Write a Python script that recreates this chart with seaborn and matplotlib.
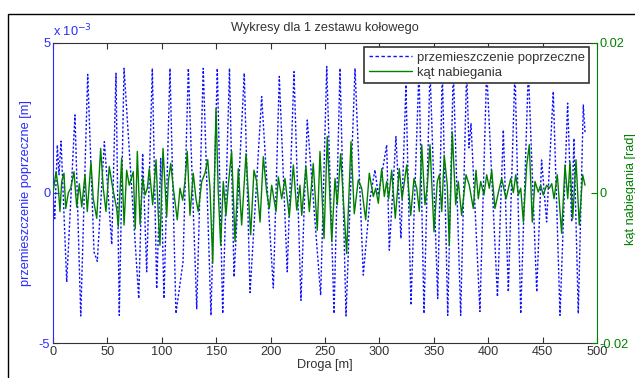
import matplotlib
matplotlib.use("Agg")
import matplotlib.pyplot as plt
import seaborn as sns
import pandas as pd
from matplotlib.lines import Line2D
from matplotlib.patches import Rectangle

# ---------------- data ----------------
# lateral displacement, values in 1e-3 m, distance in m
disp_dist = [0.0, 1.6, 4.0, 5.5, 7.4, 12.6, 20.2, 25.5, 31.9, 37.7, 40.7, 47.2, 54.0,
             57.9, 60.9, 65.3, 78.8, 82.4, 86.1, 91.3, 95.3, 99.0, 102.0, 107.5, 113.0,
             119.5, 124.4, 132.1, 138.1, 145.2, 151.0, 156.0, 162.2, 166.4, 175.8, 181.1,
             191.8, 202.5, 208.0, 215.3, 221.5, 227.9, 233.7, 246.0, 251.6, 258.3, 263.8,
             269.3, 277.6, 285.2, 291.4, 295.9, 299.0, 306.7, 309.1, 315.2, 319.8, 324.4,
             329.0, 336.4, 341.0, 346.5, 353.6, 357.8, 362.8, 367.9, 374.7, 380.2, 382.3,
             384.2, 392.4, 398.6, 408.5, 413.9, 418.5, 424.6, 429.9, 436.9, 444.6, 449.1,
             453.7, 459.8, 466.0, 473.0, 476.7, 478.8, 482.8, 487.4, 489.0]
disp_val = [0.0, -0.86, 1.59, 0.6, 1.72, -2.97, 2.59, -4.1, 3.94, -1.97, -2.28, 1.7, -1.72,
            3.98, -4.08, 4.14, -3.52, 1.31, -2.63, 4.14, -3.19, 1.14, -3.52, 4.14, -4.02,
            -2.3, 4.14, -3.86, 4.14, -4.08, 4.14, -4.02, 4.14, -2.8, 3.98, -3.32,
            3.2, -3.17, 3.87, -2.63, 4.03, -3.58, 2.42, -3.41, 4.2, -4.02, 4.14,
            -4.1, 4.14, -2.74, -0.19, 0.76, -0.08, 1.59, -1.91, 1.87, -1.52, 3.59,
            -3.74, 4.1, -4.02, 4.1, -3.52, 4.1, -4.08, 4.1, -4.08, 4.1, 1.5,
            2.3, -3.95, 4.1, -3.46, 2.09, -3.3, 4.1, -4.02, 4.1, -3.3, 1.09,
            -0.97, 3.37, -4.08, 2.98, -0.97, 1.81, -4.02, 2.92, 2.0]

# attack angle, values in 1e-3 rad, distance in m
ang_dist = [0.0, 2.8, 4.9, 6.4, 8.0, 10.1, 11.7, 14.1, 16.3, 19.3, 21.8, 24.2, 26.4, 29.4,
            31.5, 34.9, 37.0, 40.2, 43.8, 46.2, 48.7, 51.7, 54.9, 58.5, 60.0, 63.1, 65.3,
            67.7, 70.1, 73.8, 75.6, 77.5, 80.0, 82.4, 84.6, 86.7, 88.5, 91.6, 94.7, 96.8,
            98.3, 101.1, 104.5, 106.0, 108.2, 110.6, 114.2, 116.7, 119.2, 121.3, 123.4,
            125.9, 128.9, 131.4, 133.5, 136.7, 139.7, 142.2, 144.3, 146.8, 149.8, 151.9,
            154.1, 156.5, 159.0, 161.1, 164.2, 167.3, 170.3, 173.4, 177.4, 181.7, 184.7,
            187.2, 190.3, 193.3, 196.4, 198.8, 201.0, 205.0, 207.1, 210.2, 213.2, 217.2,
            220.9, 224.0, 227.0, 228.6, 232.5, 235.6, 239.2, 242.9, 245.4, 249.1, 252.1,
            256.2, 259.2, 261.3, 264.4, 267.5, 269.9, 273.9, 276.9, 280.6, 283.7, 287.4,
            290.7, 294.4, 296.6, 299.0, 302.1, 304.5, 306.7, 308.5, 311.3, 314.6, 318.3,
            320.8, 325.1, 328.8, 331.8, 334.3, 336.7, 338.9, 341.9, 344.0, 346.5, 350.2,
            353.2, 355.1, 357.3, 359.6, 362.4, 364.2, 367.0, 370.1, 372.5, 375.6, 379.6,
            382.6, 386.3, 388.8, 390.9, 393.1, 396.1, 398.6, 401.0, 403.2, 406.2, 409.3,
            412.4, 416.4, 420.7, 423.1, 425.3, 427.7, 429.9, 432.3, 435.4, 437.8, 440.5,
            443.0, 446.0, 448.2, 450.6, 453.7, 456.2, 458.4, 460.5, 463.5, 467.5, 470.6,
            473.1, 475.2, 477.7, 480.7, 483.7, 486.8, 489.0]
ang_val = [0.0, 2.8, 0.6, -2.5, 1.5, 2.6, -2.1, 0.0, 0.6, 2.8, -1.9, 1.2, -1.9, 2.4,
           -2.5, 4.1, -0.8, -3.4, 5.9, 0.6, -2.5, 3.5, 0.6, -2.1, -4.5, 4.6, -4.3,
           3.0, 1.0, 2.8, -4.8, 5.5, -4.2, 2.0, -0.3, 0.6, 3.2, -1.6, 4.4, -3.0,
           -7.0, 5.9, -3.2, 1.5, 3.9, 0.6, -3.6, 0.6, -1.0, 1.5, 5.5,
           -3.0, 2.6, -0.8, -2.5, 1.5, 2.6, 4.4, 0.6, -9.4, 11.2, 0.1,
           -7.0, 1.5, -3.0, 1.0, 5.5, -6.5, 3.2, -4.3, 5.2, -5.6, 3.0,
           1.5, -3.9, 4.8, 0.1, -2.1, 1.0, -2.5, 2.1, -0.8, 1.9, -3.2,
           3.7, -2.3, 1.0, -3.0, 3.5, -2.5, 3.9, -5.0, 5.5, -6.1, 7.5,
           -6.5, 1.9, -1.6, 5.2, -2.5, -8.1, 6.8, -2.8, 1.7, 0.6, -3.6,
           2.6, -0.5, 0.6, -1.4, 3.2, -0.5, 1.5, -0.8, 3.0, -3.4, 3.2,
           -0.8, 3.7, -3.0, 1.9, 0.6, -2.5, 6.4, -1.6, 0.8, 6.4, -5.2,
           1.5, 2.4, -2.5, 5.0, 1.0, -7.0, 8.1, -1.6, 1.5, -3.0, 2.4,
           1.0, -2.1, 3.0, -0.8, 1.5, -0.3, 2.4, 0.6, 3.0, -2.1, 0.0,
           1.9, -0.8, 1.9, 0.0, 2.4, -0.3, 0.6, -3.9, 3.7, 6.4, -3.9,
           1.5, 0.1, 1.0, -0.3, 1.0, 0.6, 1.2, -0.8, 2.4, -5.4, 3.7,
           -0.8, 4.1, -3.4, 4.4, -4.3, 2.4, 1.0]

x_ticks = [0, 50, 100, 150, 200, 250, 300, 350, 400, 450, 500]
left_ticks = [-5, 0, 5]
right_ticks = [-0.02, 0, 0.02]

title = "Wykresy dla 1 zestawu kołowego"
xlabel = "Droga [m]"
ylabel_left = "przemieszczenie poprzeczne [m]"
ylabel_right = "kąt nabiegania [rad]"
labels = ["przemieszczenie poprzeczne", "kąt nabiegania"]

# ---------------- styling ----------------
sns.set_style("white")
plt.rcParams["font.family"] = ["Liberation Sans", "DejaVu Sans"]
plt.rcParams["xtick.direction"] = "in"
plt.rcParams["ytick.direction"] = "in"

BLUE = "#2a2aff"
GREEN = "#008000"
GRAY = "#333333"
FS = 9.2

df_d = pd.DataFrame({"Droga": disp_dist, "disp": disp_val})
df_a = pd.DataFrame({"Droga": ang_dist, "ang": [v * 1e-3 for v in ang_val]})

fig = plt.figure(figsize=(6.35, 3.78), dpi=100)
ax = fig.add_axes([53 / 635, 1 - 343 / 378, 544 / 635, 300.5 / 378])

sns.lineplot(data=df_d, x="Droga", y="disp", ax=ax, color="#1010ff",
             linewidth=1.0, linestyle=(0, (1.6, 1.4)), estimator=None, sort=False)
ax.set_xlim(0, 500)
ax.set_ylim(-5, 5)
ax.set_xticks(x_ticks)
ax.set_yticks(left_ticks)
ax.set_yticklabels([str(t) for t in left_ticks])
ax.tick_params(axis="x", colors=GRAY, labelcolor=GRAY, labelsize=FS, length=4,
               top=True, bottom=True, pad=2)
ax.tick_params(axis="y", colors=BLUE, labelcolor=BLUE, labelsize=FS, length=4, pad=2)
ax.set_xlabel(xlabel, fontsize=FS, color=GRAY, labelpad=1)
ax.set_ylabel(ylabel_left, fontsize=FS, color=BLUE, labelpad=5)
for s in ["top", "bottom"]:
    ax.spines[s].set_color(GRAY)
ax.spines["left"].set_color(BLUE)
ax.spines["right"].set_visible(False)
ax.set_title(title, fontsize=FS, color=GRAY, pad=8)
ax.text(0.0, 1.012, r"x 10$^{-3}$", transform=ax.transAxes, color=BLUE,
        fontsize=FS, ha="left", va="bottom")

ax2 = ax.twinx()
sns.lineplot(data=df_a, x="Droga", y="ang", ax=ax2, color=GREEN, linewidth=1.0,
             estimator=None, sort=False)
ax2.set_ylim(-0.02, 0.02)
ax2.set_yticks(right_ticks)
ax2.set_yticklabels(["-0.02", "0", "0.02"])
ax2.tick_params(axis="y", colors=GREEN, labelcolor=GREEN, labelsize=FS, length=4, pad=2)
ax2.spines["right"].set_color(GREEN)
for s in ["top", "bottom", "left"]:
    ax2.spines[s].set_visible(False)
ax2.set_ylabel("")
ax2.set_xlabel("")
fig.text(0.993, 0.5, ylabel_right, rotation=90, color=GREEN, fontsize=FS,
         ha="center", va="center")

handles = [Line2D([], [], color="#1010ff", linewidth=1.0, linestyle=(0, (2.5, 1.8))),
           Line2D([], [], color=GREEN, linewidth=1.0)]
leg = ax2.legend(handles, labels, loc="upper right", bbox_to_anchor=(0.986, 0.984),
                 borderaxespad=0, fontsize=FS + 0.2, frameon=True, fancybox=False,
                 framealpha=1, edgecolor=GRAY, handlelength=3.3, labelspacing=0.2,
                 borderpad=0.35, handletextpad=0.4)
leg.get_frame().set_linewidth(1.2)
for t in leg.get_texts():
    t.set_color(GRAY)

# figure frame (left and top edge of the screenshot)
fig.add_artist(Rectangle((8 / 635, -0.2), 1.5, 1.2 - 14 / 378, transform=fig.transFigure,
                         fill=False, edgecolor="black", linewidth=1.0, clip_on=False))

fig.savefig("out.png", dpi=100)
